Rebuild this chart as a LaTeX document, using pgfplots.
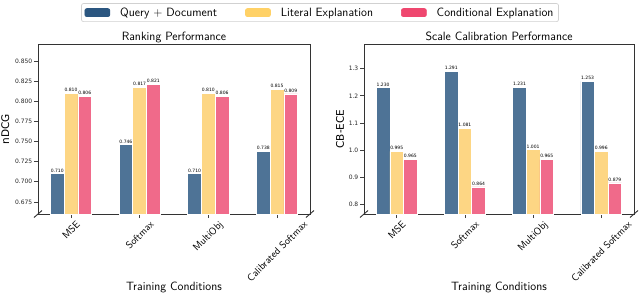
\documentclass[border=0pt]{standalone}
\usepackage{fontspec}
\usepackage{graphicx}
\usepackage{pgfplots}
\pgfplotsset{compat=1.18}
\newfontfamily\dejavu{DejaVu Sans}
\definecolor{qdL}{HTML}{2B5680}
\definecolor{litL}{HTML}{FFD166}
\definecolor{conL}{HTML}{EF476F}
\definecolor{qdB}{HTML}{4E7396}
\definecolor{litB}{HTML}{FDD684}
\definecolor{conB}{HTML}{F06A8A}
\definecolor{spine}{HTML}{333333}

\pgfplotsset{
 every axis title shift=0pt,
 myaxis/.style={
  scale only axis, height=170pt,
  xmin=-0.48, xmax=3.48,
  xtick={0,1,2,3},
  xticklabels={\rotatebox{45}{MSE},\rotatebox{45}{Softmax},\rotatebox{45}{MultiObj},\rotatebox{45}{Calibrated Softmax}},
  xticklabel style={anchor=north, font=\sffamily\fontsize{10}{12}\selectfont, inner sep=2pt},
  yticklabel style={font=\dejavu\fontsize{6}{7}\selectfont, inner sep=1.5pt, text=black!85},
  /pgf/number format/assume math mode=true,
  tick align=outside, tick pos=left, major tick length=4pt,
  tick style={black!75, line width=0.6pt},
  axis line style={spine, line width=0.8pt},
  ybar, bar width=0.2,
  enlargelimits=false,
  nodes near coords={\pgfmathprintnumber[fixed,fixed zerofill,precision=3,assume math mode=true]{\pgfplotspointmeta}},
  every node near coord/.append style={font=\dejavu\fontsize{4.5}{5}\selectfont, anchor=south, inner sep=1.2pt, text=black},
  title style={at={(axis description cs:0.5,1)}, anchor=base, yshift=4pt, font=\sffamily\fontsize{12}{14}\selectfont},
  xlabel={Training Conditions},
  xlabel style={at={(axis description cs:0.5,0)}, anchor=base, yshift=-76pt, font=\sffamily\fontsize{12}{14}\selectfont},
  ylabel style={anchor=center, font=\dejavu\fontsize{10.5}{12}\selectfont},
 },
 barQ/.style={fill=qdB, draw=white, line width=0.6pt, bar shift=-0.2, forget plot},
 barL/.style={fill=litB, draw=white, line width=0.6pt, bar shift=0, forget plot},
 barC/.style={fill=conB, draw=white, line width=0.6pt, bar shift=0.2, forget plot},
}

\begin{document}
\begin{tikzpicture}[x=1pt,y=1pt]
\begin{axis}[myaxis, name=L,
  at={(38pt,79pt)}, anchor=south west, width=272pt,
  ymin=0.66, ymax=0.871,
  ytick={0.675,0.7,0.725,0.75,0.775,0.8,0.825,0.85},
  yticklabel style={/pgf/number format/.cd, fixed, fixed zerofill, precision=3},
  title={Ranking Performance},
  ylabel={nDCG},
  ylabel style={at={(axis description cs:-0.12,0.5)}},
  legend columns=3,
  legend style={at={(axis description cs:1.0368,1.24)}, anchor=north,
    draw=black!18, rounded corners=2pt, line width=0.7pt,
    font=\sffamily\fontsize{12}{14}\selectfont,
    /tikz/every odd column/.append style={column sep=8pt},
    /tikz/every even column/.append style={column sep=26pt}},
]
\addplot[barQ] coordinates {(0,0.710) (1,0.746) (2,0.710) (3,0.738)};
\addplot[barL] coordinates {(0,0.810) (1,0.817) (2,0.810) (3,0.815)};
\addplot[barC] coordinates {(0,0.806) (1,0.821) (2,0.806) (3,0.809)};
\addlegendimage{legend image code/.code={\fill[qdL] (0pt,-4pt) rectangle (25pt,4pt);}}
\addlegendentry{Query + Document}
\addlegendimage{legend image code/.code={\fill[litL] (0pt,-4pt) rectangle (25pt,4pt);}}
\addlegendentry{Literal Explanation}
\addlegendimage{legend image code/.code={\fill[conL] (0pt,-4pt) rectangle (25pt,4pt);}}
\addlegendentry{Conditional Explanation}
\end{axis}

\begin{axis}[myaxis, name=R,
  at={(364pt,79pt)}, anchor=south west, width=270pt,
  ymin=0.764, ymax=1.391,
  ytick={0.8,0.9,1.0,1.1,1.2,1.3},
  yticklabel style={/pgf/number format/.cd, fixed, fixed zerofill, precision=1},
  title={Scale Calibration Performance},
  ylabel={CB-ECE},
  ylabel style={at={(axis description cs:-0.089,0.5)}},
]
\addplot[barQ] coordinates {(0,1.230) (1,1.291) (2,1.231) (3,1.253)};
\addplot[barL] coordinates {(0,0.995) (1,1.081) (2,1.001) (3,0.996)};
\addplot[barC] coordinates {(0,0.965) (1,0.864) (2,0.965) (3,0.879)};
\end{axis}

\foreach \c in {L.south west, L.south east, R.south west, R.south east}{
  \draw[spine, line width=0.9pt] (\c) ++(-4pt,-3.5pt) -- ++(8pt,7pt);
}
\pgfresetboundingbox
\useasboundingbox (0pt,0pt) rectangle (640pt,293pt);
\end{tikzpicture}
\end{document}
